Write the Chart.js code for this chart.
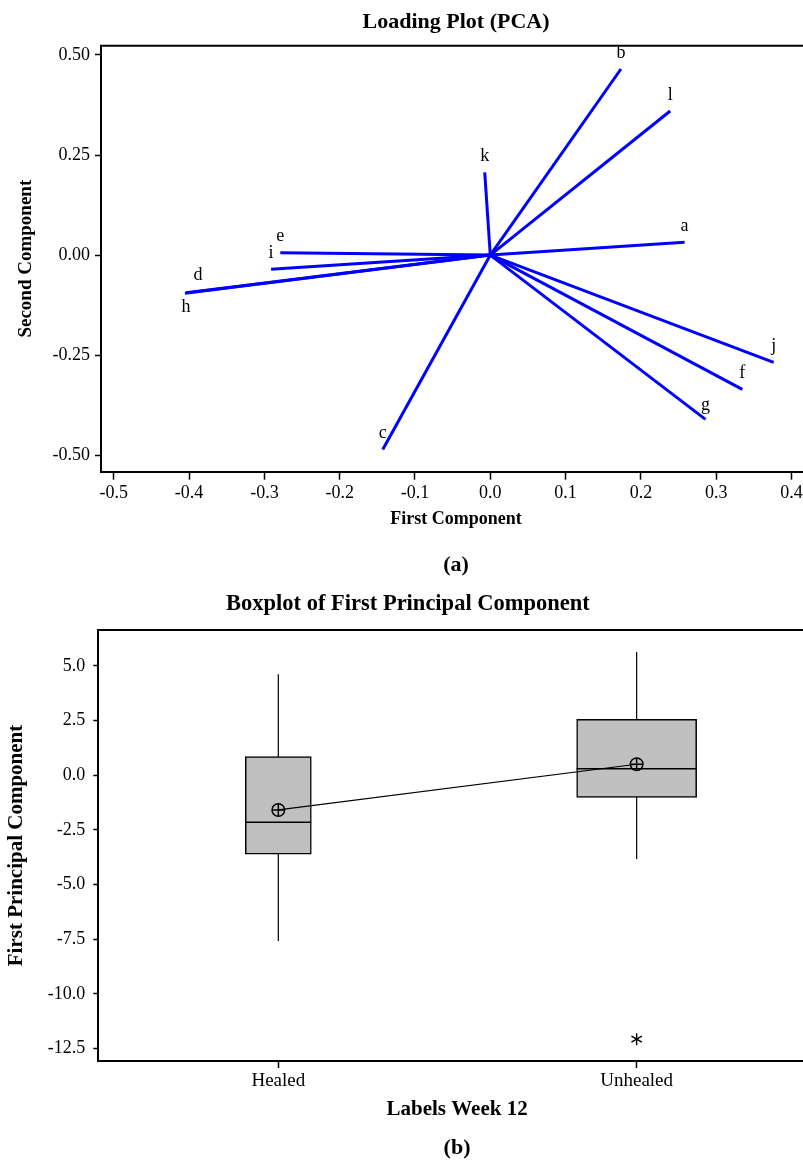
<!DOCTYPE html>
<html>
<head>
<meta charset="utf-8">
<script src="https://cdn.jsdelivr.net/npm/chart.js@4.4.1/dist/chart.umd.min.js"></script>
<style>
  body { margin: 0; background: #fff; width: 803px; height: 1162px; overflow: hidden; }
  .wrap { position: absolute; left: 0; width: 803px; overflow: hidden; }
  canvas { display: block; }
</style>
</head>
<body>
<div class="wrap" style="top:0; height:580px"><canvas id="loadingChart" width="811" height="580"></canvas></div>
<div class="wrap" style="top:580px; height:582px"><canvas id="boxChart" width="836" height="582"></canvas></div>
<script>
  // loading plot data (first / second component loadings)
  var varNames = ['a', 'b', 'c', 'd', 'e', 'f', 'g', 'h', 'i', 'j', 'k', 'l'];
  var pc1 = [0.258, 0.1735, -0.1428, -0.404, -0.2789, 0.3347, 0.2858, -0.4054, -0.2911, 0.3763, -0.0074, 0.2389];
  var pc2 = [0.032, 0.4648, -0.4853, -0.094, 0.0059, -0.3354, -0.4103, -0.0955, -0.0356, -0.2679, 0.2067, 0.360];
  var pc1Ticks = [-0.5, -0.4, -0.3, -0.2, -0.1, 0.0, 0.1, 0.2, 0.3, 0.4];
  var pc2Ticks = [0.5, 0.25, 0.0, -0.25, -0.5];

  // boxplot data
  var groups = ['Healed', 'Unhealed'];
  var q1 = [-3.61, -1.02];
  var q3 = [0.85, 2.55];
  var medians = [-2.15, 0.29];
  var means = [-1.59, 0.50];
  var whiskerLow = [-7.58, -3.83];
  var whiskerHigh = [4.62, 5.63];
  var outliers = [[], [-12.07]];
  var scoreTicks = [5.0, 2.5, 0.0, -2.5, -5.0, -7.5, -10.0, -12.5];

  Chart.defaults.font.family = "'Liberation Serif', 'Times New Roman', serif";
  Chart.defaults.color = '#000';

  var serif = "'Liberation Serif', 'Times New Roman', serif";

  // top line of the frame (axes only draw left and bottom)
  var topFrame = {
    id: 'topFrame',
    afterDraw: function (chart) {
      var ctx = chart.ctx, a = chart.chartArea;
      ctx.save();
      ctx.strokeStyle = '#000';
      ctx.lineWidth = 2;
      ctx.beginPath();
      ctx.moveTo(a.left - 1, a.top);
      ctx.lineTo(a.right, a.top);
      ctx.stroke();
      ctx.restore();
    }
  };

  // letters at the end of each loading vector
  var labelOffsets = { d: [12, -17], h: [1, 14], g: [0, -14] };
  var varLabels = {
    id: 'varLabels',
    afterDatasetsDraw: function (chart) {
      var ctx = chart.ctx, x = chart.scales.x, y = chart.scales.y;
      ctx.save();
      ctx.font = '18px ' + serif;
      ctx.fillStyle = '#000';
      ctx.textAlign = 'center';
      ctx.textBaseline = 'middle';
      varNames.forEach(function (n, i) {
        var off = labelOffsets[n] || [0, -16];
        ctx.fillText(n, x.getPixelForValue(pc1[i]) + off[0], y.getPixelForValue(pc2[i]) + off[1]);
      });
      ctx.restore();
    }
  };

  function setTicks(arr) {
    return function (scale) {
      scale.ticks = arr.map(function (v) { return { value: v }; });
    };
  }

  var ctx = document.getElementById('loadingChart');
  var loadingChart = new Chart(ctx, {
    type: 'scatter',
    data: {
      datasets: varNames.map(function (n, i) {
        return {
          label: n,
          data: [{ x: 0, y: 0 }, { x: pc1[i], y: pc2[i] }],
          showLine: true,
          borderColor: '#0000ff',
          borderWidth: 3,
          pointRadius: 0
        };
      })
    },
    options: {
      responsive: false,
      animation: false,
      events: [],
      layout: { autoPadding: false },
      plugins: {
        legend: { display: false },
        tooltip: { enabled: false },
        title: {
          display: true,
          fullSize: false,
          text: 'Loading Plot (PCA)',
          font: { size: 22, weight: 'bold' },
          padding: { top: 8.8, bottom: 10.5 }
        },
        subtitle: {
          display: true,
          fullSize: false,
          position: 'bottom',
          text: '(a)',
          color: '#000',
          font: { size: 22, weight: 'bold' },
          padding: { top: 10, bottom: 1.8 }
        }
      },
      scales: {
        x: {
          type: 'linear',
          min: -0.517,
          max: 0.4259,
          afterBuildTicks: setTicks(pc1Ticks),
          afterFit: function (s) { s.height = 70.1; s.paddingLeft = 0; s.paddingRight = 0; },
          ticks: {
            font: { size: 18 },
            padding: 2.5,
            callback: function (v) { return v.toFixed(1); }
          },
          grid: { drawOnChartArea: false, drawTicks: true, tickLength: 8, tickWidth: 1.5, tickColor: '#000' },
          border: { display: true, color: '#000', width: 2 },
          title: {
            display: true,
            text: 'First Component',
            font: { size: 18, weight: 'bold' },
            padding: { top: 0, bottom: 12 }
          }
        },
        y: {
          type: 'linear',
          min: -0.541,
          max: 0.523,
          afterBuildTicks: setTicks(pc2Ticks),
          afterFit: function (s) { s.width = 101; },
          ticks: {
            font: { size: 18 },
            padding: 5,
            callback: function (v) { return v.toFixed(2); }
          },
          grid: { drawOnChartArea: false, drawTicks: true, tickLength: 6, tickWidth: 1.5, tickColor: '#000' },
          border: { display: true, color: '#000', width: 2 },
          title: {
            display: true,
            text: 'Second Component',
            font: { size: 19, weight: 'bold' },
            padding: { top: 14.6, bottom: 0 }
          }
        }
      }
    },
    plugins: [topFrame, varLabels]
  });

  // boxplot: boxes are floating bars, whiskers/means/outliers are line + scatter sets
  var boxIndex = { 1: 0, 2: 1 };
  var medianLine = {
    id: 'medianLine',
    afterDatasetDraw: function (chart, args) {
      if (!(args.index in boxIndex)) return;
      var g = boxIndex[args.index];
      var bar = chart.getDatasetMeta(args.index).data[0];
      var yPix = chart.scales.y.getPixelForValue(medians[g]);
      var c = chart.ctx;
      c.save();
      c.strokeStyle = '#000';
      c.lineWidth = 1.5;
      c.beginPath();
      c.moveTo(bar.x - bar.width / 2, yPix);
      c.lineTo(bar.x + bar.width / 2, yPix);
      c.stroke();
      c.restore();
    }
  };

  var meanPoints = groups.map(function (g, i) { return { x: i + 1, y: means[i] }; });
  var outlierPoints = [];
  outliers.forEach(function (list, i) {
    list.forEach(function (v) { outlierPoints.push({ x: i + 1, y: v }); });
  });

  var boxSets = groups.map(function (g, i) {
    return {
      type: 'bar',
      label: g,
      data: [{ x: i + 1, y: [q1[i], q3[i]] }],
      backgroundColor: '#c0c0c0',
      borderColor: '#000',
      borderWidth: 1.5,
      borderSkipped: false,
      grouped: false,
      barThickness: i === 0 ? 66 : 120,
      order: 2
    };
  });

  var whiskerSets = groups.map(function (g, i) {
    return {
      type: 'scatter',
      label: g + ' whisker',
      data: [{ x: i + 1, y: whiskerLow[i] }, { x: i + 1, y: whiskerHigh[i] }],
      showLine: true,
      borderColor: '#000',
      borderWidth: 1.2,
      pointRadius: 0,
      order: 3
    };
  });

  // six-armed asterisk for outliers: three rotated line markers
  var asteriskSets = [90, 30, 150].map(function (rot) {
    return {
      type: 'scatter',
      label: 'Outlier',
      data: outlierPoints,
      pointStyle: 'line',
      pointRotation: rot,
      pointRadius: 6,
      pointBorderWidth: 1.4,
      pointBorderColor: '#000',
      order: 0
    };
  });

  var ctx2 = document.getElementById('boxChart');
  var boxChart = new Chart(ctx2, {
    type: 'bar',
    data: {
      datasets: [
        {
          type: 'line',
          label: 'Mean',
          data: meanPoints,
          borderColor: '#000',
          borderWidth: 1.2,
          pointStyle: 'circle',
          pointRadius: 6.3,
          pointBorderWidth: 1.5,
          pointBorderColor: '#000',
          pointBackgroundColor: 'rgba(0,0,0,0)',
          order: 0
        }
      ].concat(boxSets).concat([
        {
          type: 'scatter',
          label: 'Mean cross',
          data: meanPoints,
          pointStyle: 'cross',
          pointRadius: 6.3,
          pointBorderWidth: 1.5,
          pointBorderColor: '#000',
          order: 0
        }
      ]).concat(asteriskSets).concat(whiskerSets)
    },
    options: {
      responsive: false,
      animation: false,
      events: [],
      layout: { autoPadding: false, padding: { right: 20.2 } },
      plugins: {
        legend: { display: false },
        tooltip: { enabled: false },
        title: {
          display: true,
          text: 'Boxplot of First Principal Component',
          font: { size: 22.5, weight: 'bold' },
          padding: { top: 10.5, bottom: 12.5 }
        },
        subtitle: {
          display: true,
          fullSize: false,
          position: 'bottom',
          text: '(b)',
          color: '#000',
          font: { size: 22, weight: 'bold' },
          padding: { top: 10, bottom: 0 }
        }
      },
      scales: {
        x: {
          type: 'linear',
          offset: false,
          min: 0.4976,
          max: 2.5,
          afterBuildTicks: setTicks([1, 2]),
          afterFit: function (s) { s.height = 64.6; s.paddingLeft = 0; s.paddingRight = 0; },
          ticks: {
            font: { size: 19 },
            padding: 1.3,
            callback: function (v) { return groups[v - 1]; }
          },
          grid: { offset: false, drawOnChartArea: false, drawTicks: true, tickLength: 7, tickWidth: 1.5, tickColor: '#000' },
          border: { display: true, color: '#000', width: 2 },
          title: {
            display: true,
            text: 'Labels Week 12',
            font: { size: 21, weight: 'bold' },
            padding: { top: 0, bottom: 3 }
          }
        },
        y: {
          type: 'linear',
          min: -13.07,
          max: 6.64,
          afterBuildTicks: setTicks(scoreTicks),
          afterFit: function (s) { s.width = 98.3; },
          ticks: {
            font: { size: 18 },
            padding: 8,
            callback: function (v) { return v.toFixed(1); }
          },
          grid: { drawOnChartArea: false, drawTicks: true, tickLength: 5, tickWidth: 1.5, tickColor: '#000' },
          border: { display: true, color: '#000', width: 2 },
          title: {
            display: true,
            text: 'First Principal Component',
            font: { size: 21, weight: 'bold' },
            padding: { top: 4, bottom: 0 }
          }
        }
      }
    },
    plugins: [topFrame, medianLine]
  });
</script>
</body>
</html>
